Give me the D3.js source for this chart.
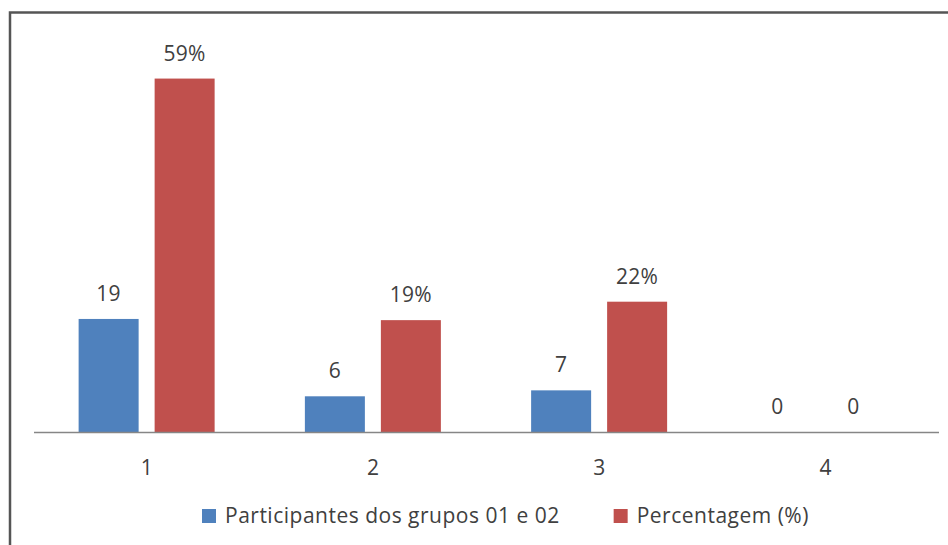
<!DOCTYPE html>
<html>
<head>
<meta charset="utf-8">
<script src="https://cdn.jsdelivr.net/npm/d3@7"></script>
<style>
  html, body { margin: 0; padding: 0; background: #ffffff; }
  svg { display: block; }
  text { font-family: "Open Sans", Lato, "Liberation Sans", sans-serif; fill: #404040; }
</style>
</head>
<body>
<svg id="chart" width="948" height="545"></svg>
<script>
// Categories on the horizontal axis
const categories = ["1", "2", "3", "4"];
// Series names (legend) and colours
const seriesNames = ["Participantes dos grupos 01 e 02", "Percentagem (%)"];
const seriesColors = ["#4F81BD", "#C0504D"];
// Values per category
const participantes = [19, 6, 7, 0];
const percentagem = [59.4, 18.8, 21.9, 0];

const W = 948, H = 545;
const FONT_SIZE = 21;
const svg = d3.select("#chart");

// Outer frame (left and top edges)
svg.append("path")
  .attr("d", `M10,${H} V12.5 H${W}`)
  .attr("fill", "none")
  .attr("stroke", "#555555")
  .attr("stroke-width", 2.5);

const baseY = 432;
const x0 = d3.scaleBand().domain(categories).range([33.5, 938.5]).padding(0);
const groupW = 136;
const x1 = d3.scaleBand().domain([0, 1]).range([0, groupW]).paddingInner(0.2105).paddingOuter(0);
const y = d3.scaleLinear().domain([0, 70]).range([baseY, baseY - 70 * 5.95]);

const rows = categories.map((c, i) => ({ cat: c, vals: [participantes[i], percentagem[i]] }));
const fmt = [
  v => d3.format("d")(v),
  v => v === 0 ? "0" : d3.format(".0f")(v) + "%"
];

const groups = svg.append("g").selectAll("g")
  .data(rows)
  .join("g")
  .attr("transform", d => `translate(${x0(d.cat) + (x0.bandwidth() - groupW) / 2},0)`);

groups.selectAll("rect")
  .data(d => d.vals.map((v, k) => ({ v, k })))
  .join("rect")
  .attr("x", d => x1(d.k))
  .attr("width", x1.bandwidth())
  .attr("y", d => y(d.v))
  .attr("height", d => baseY - y(d.v))
  .attr("fill", d => seriesColors[d.k]);

// Value labels above each bar (empty bars get their label nudged left)
groups.selectAll("text.lbl")
  .data(d => d.vals.map((v, k) => ({ v, k })))
  .join("text")
  .attr("class", "lbl")
  .attr("x", d => x1(d.k) + x1.bandwidth() / 2)
  .attr("dx", d => d.v === 0 ? -10 : 0)
  .attr("y", d => y(d.v) - 18)
  .attr("text-anchor", "middle")
  .attr("font-size", FONT_SIZE)
  .attr("letter-spacing", 0.3)
  .text(d => fmt[d.k](d.v));

// Category axis
const axis = svg.append("g")
  .attr("transform", `translate(0,${baseY})`)
  .call(d3.axisBottom(x0).tickSize(0).tickPadding(0));
axis.select(".domain").attr("stroke", "#868686").attr("stroke-width", 1.5);
axis.selectAll(".tick text")
  .attr("font-size", FONT_SIZE)
  .attr("dy", null)
  .attr("y", 43)
  .style("font-family", "'Open Sans', Lato, 'Liberation Sans', sans-serif")
  .attr("fill", "#404040");

// Legend
const legend = svg.append("g").attr("transform", "translate(202,0)");
let lx = 0;
seriesNames.forEach((name, k) => {
  const item = legend.append("g").attr("transform", `translate(${lx},0)`);
  item.append("rect")
    .attr("x", 0).attr("y", 509).attr("width", 14).attr("height", 14)
    .attr("fill", seriesColors[k]);
  const t = item.append("text")
    .attr("x", 23).attr("y", 523)
    .attr("font-size", FONT_SIZE)
    .attr("letter-spacing", 0.5)
    .text(name);
  lx += 23 + t.node().getComputedTextLength() + 54;
});
</script>
</body>
</html>
